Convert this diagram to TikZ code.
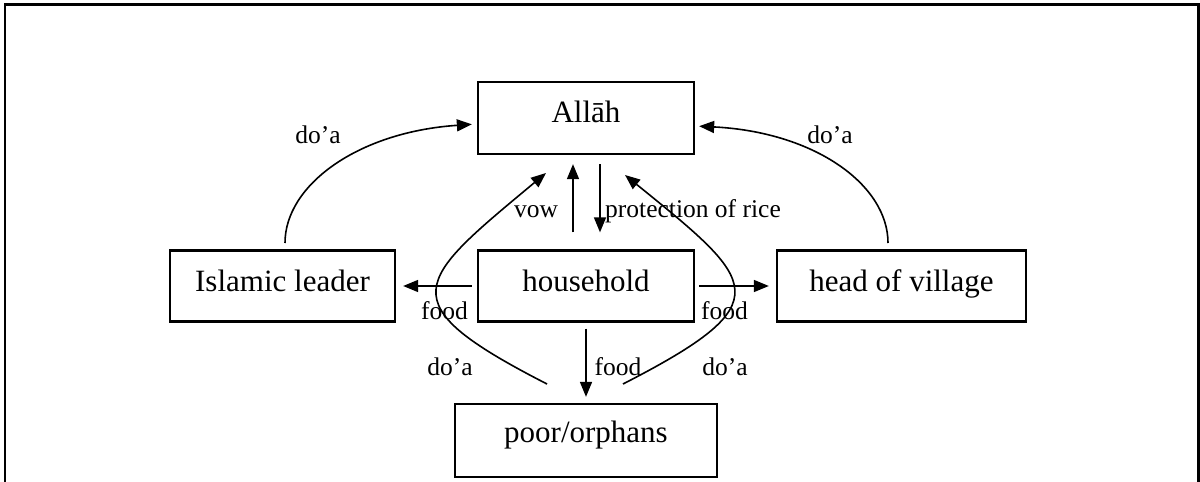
\documentclass[tikz,border=0pt]{standalone}
\usepackage{fontspec}
\setmainfont{Liberation Serif}
\usetikzlibrary{arrows.meta,calc}
\begin{document}
\begin{tikzpicture}[x=1pt,y=-1pt,
  box/.style={draw,line width=2.3pt,rectangle,inner sep=0pt,minimum height=71pt,
    font=\fontsize{31}{36}\selectfont,text height=22pt,text depth=12pt},
  lbl/.style={inner sep=0pt,anchor=base,font=\fontsize{25.5}{30}\selectfont},
  arr/.style={line width=1.6pt,-{Triangle[length=15pt,width=12pt]}}]
\useasboundingbox (0,0) rectangle (1200,482);
% outer frame
\draw[line width=2.5pt] (5,482) -- (5,4.5) -- (1198.5,4.5) -- (1198.5,482);

% boxes
\node[box,minimum width=216pt,minimum height=72pt,text depth=14pt] (allah) at (586,118) {Allāh};
\node[box,minimum width=216pt] (household) at (586,286) {household};
\node[box,minimum width=225pt] (leader) at (282.5,286) {Islamic leader};
\node[box,minimum width=249pt] (head) at (901.5,286) {head of village};
\node[box,minimum width=262pt,minimum height=73pt,text depth=19pt] (poor) at (586,440.5) {poor/orphans};

% straight arrows
\draw[arr,shorten <=17pt,shorten >=9pt] ([xshift=-13pt]household.north) -- ([xshift=-13pt]allah.south);
\draw[arr,shorten <=9pt,shorten >=17pt] ([xshift=14pt]allah.south) -- ([xshift=14pt]household.north);
\draw[arr,shorten <=5pt,shorten >=7pt] (household.west) -- (leader.east);
\draw[arr,shorten <=4pt,shorten >=7pt] (household.east) -- (head.west);
\draw[arr,shorten <=6pt,shorten >=6pt] (household.south) -- (poor.north);

% curved do'a arrows
\coordinate (pl) at (547,384);
\coordinate (pr) at (623,384);
\coordinate (al) at (546,173);
\coordinate (ar) at (625,175);
\coordinate (lt) at (285,243);
\coordinate (rt) at (888,243);
\draw[arr] (pl) .. controls (387,302) and (415,282) .. (al);
\draw[arr] (pr) .. controls (783,302) and (757,282) .. (ar);
\draw[arr,shorten >=5pt] (lt) .. controls (285,185) and (358,132) .. ([yshift=-6pt]allah.west);
\draw[arr,shorten >=4pt] (rt) .. controls (888,185) and (815,132) .. ([yshift=-8pt]allah.east);

% labels
\node[lbl] (dl) at (318,143) {do’a};
\node[lbl] (dr) at (830,143) {do’a};
\node[lbl] (vow) at (536,217) {vow};
\node[lbl,anchor=base west] (prot) at (605,217) {protection of rice};
\node[lbl] (fl) at (444.5,319) {food};
\node[lbl] (fr) at (724.5,319) {food};
\node[lbl] (fm) at (618,375) {food};
\node[lbl] (dll) at (450,375) {do’a};
\node[lbl] (drl) at (725,375) {do’a};
\end{tikzpicture}
\end{document}
